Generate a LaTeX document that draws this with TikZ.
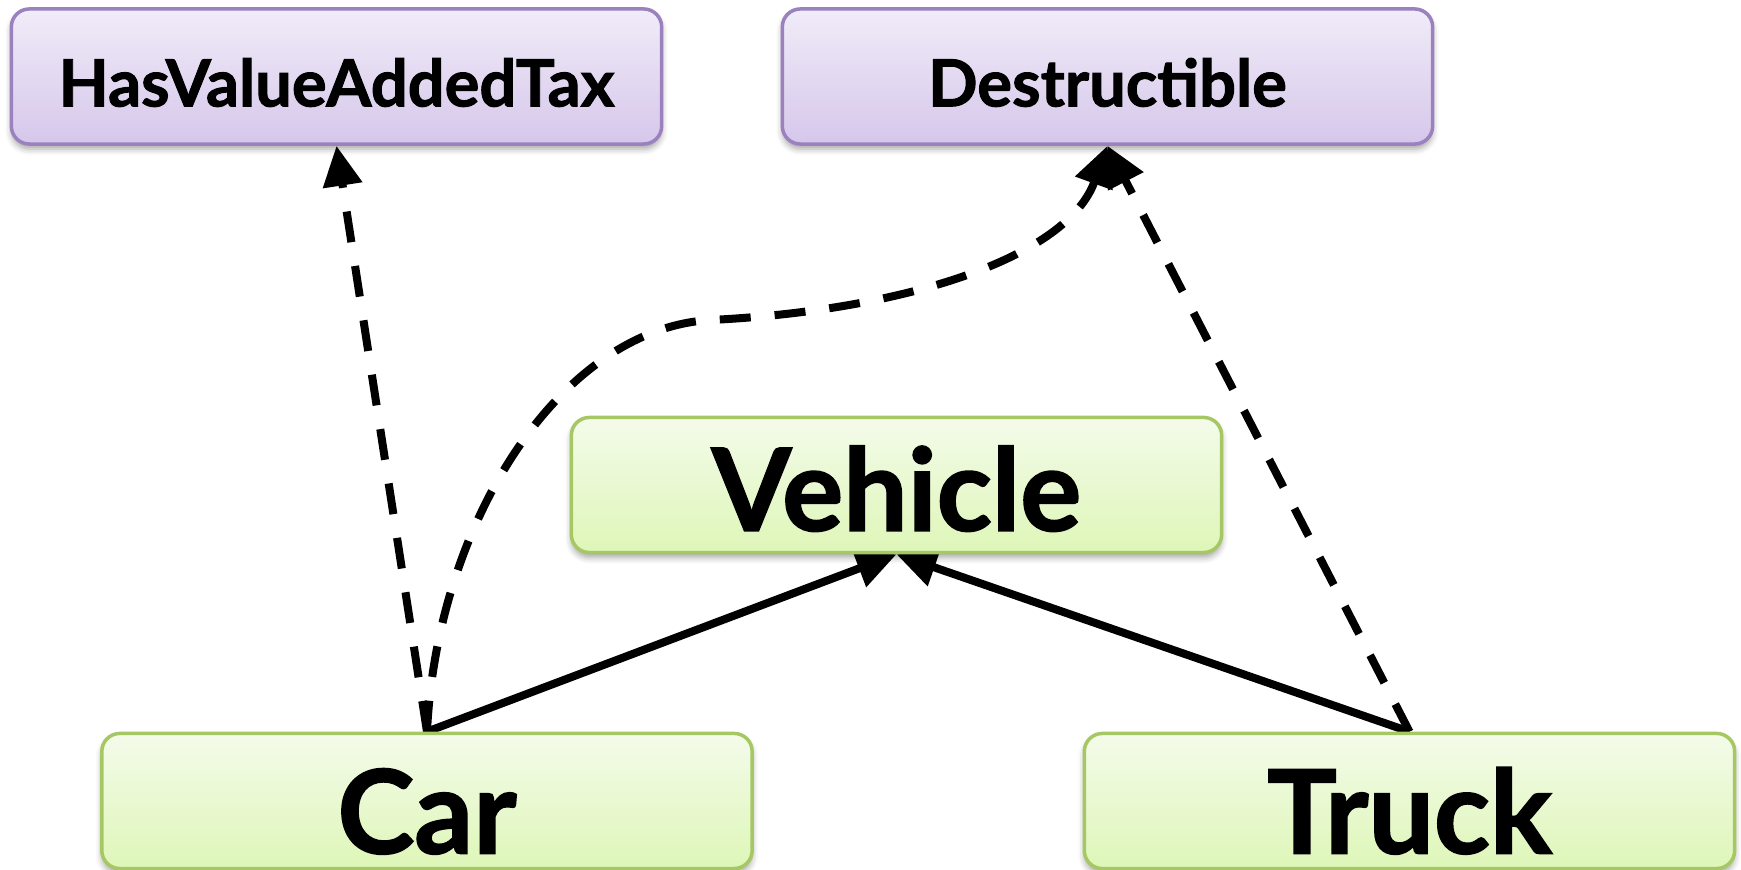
\documentclass[tikz,border=0pt]{standalone}
\usepackage{fontspec}
\setmainfont{Lato}[BoldFeatures={FakeBold=1.5}]
\usetikzlibrary{arrows.meta,shadows.blur}

\definecolor{ifacetop}{RGB}{240,236,248}
\definecolor{ifacebot}{RGB}{214,199,235}
\definecolor{ifaceline}{RGB}{155,130,190}
\definecolor{classtop}{RGB}{244,251,234}
\definecolor{classbot}{RGB}{222,246,184}
\definecolor{classline}{RGB}{166,200,100}

\pgfdeclarelayer{background}
\pgfsetlayers{background,main}

\tikzset{
  box/.style={rectangle, rounded corners=0.18cm, minimum width=6.5cm,
    minimum height=1.35cm, line width=1pt, text depth=0pt,
    blur shadow={shadow xshift=0pt, shadow yshift=-0.05cm,
      shadow blur radius=0.06cm, shadow opacity=35}},
  iface/.style={box, draw=ifaceline, top color=ifacetop, bottom color=ifacebot,
    font=\fontsize{18.5}{22}\selectfont\bfseries, text height=17pt},
  klass/.style={box, draw=classline, top color=classtop, bottom color=classbot,
    font=\fontsize{33}{39}\selectfont\bfseries, text height=29.8pt},
  extends/.style={-{Triangle[length=0.4cm,width=0.38cm]}, line width=0.08cm},
  implements/.style={extends, dash pattern=on 0.31cm off 0.24cm}
}

\begin{document}
\begin{tikzpicture}[x=0.01cm,y=0.01cm]
  \useasboundingbox (0,0) rectangle (1741,870);

  % interfaces
  \node[iface] (hvat)  at (336.5,793.5)  {HasValueAddedTax};
  \node[iface] (destr) at (1107.5,793.5) {Destructible};

  % classes
  \node[klass, font=\fontsize{32.5}{38}\selectfont\bfseries, text height=26pt] (vehicle) at (896.5,385) {Vehicle};
  \node[klass] (car)   at (427,69)    {Car};
  \node[klass] (truck) at (1409.5,69) {Truck};

  \coordinate (bend) at (711,550);

  \begin{pgfonlayer}{background}
    \path[extends] (car.north)   edge (vehicle.south)
                   (truck.north) edge (vehicle.south);
    \path[implements] (car.north)   edge (hvat.south)
                      (truck.north) edge (destr.south);
    \draw[implements] (car.north) .. controls +(10,210) and +(-150,-8) .. (bend)
      .. controls +(200,10) and +(-40,-110) .. (destr.south);
  \end{pgfonlayer}
\end{tikzpicture}
\end{document}
